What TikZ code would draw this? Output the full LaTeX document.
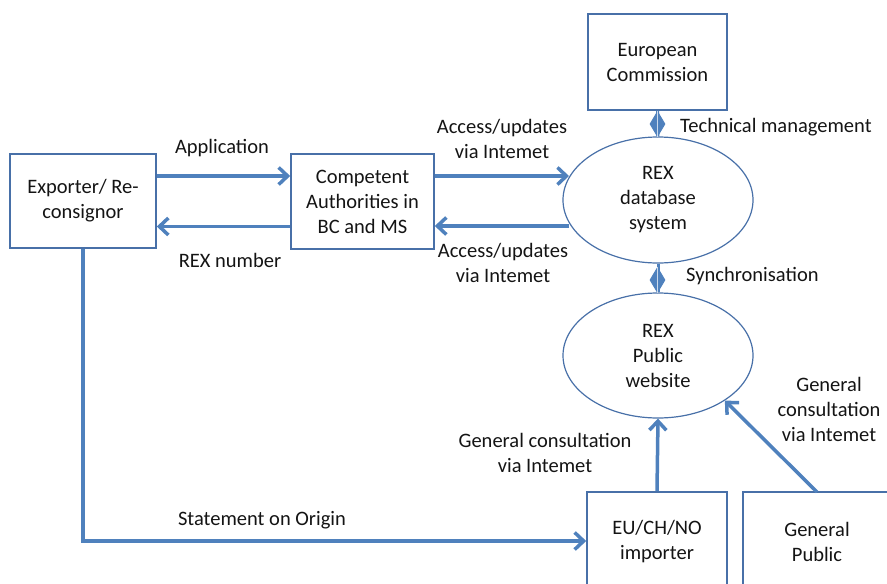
\documentclass[tikz,border=0pt]{standalone}
\usepackage{fontspec}
\setmainfont{Carlito}
\usetikzlibrary{arrows.meta,shapes.geometric}
\definecolor{arrblue}{RGB}{79,129,189}
\definecolor{boxblue}{RGB}{72,112,168}
\definecolor{txt}{RGB}{20,20,20}
\begin{document}
\begin{tikzpicture}[x=1pt,y=-1pt,
  every node/.style={font=\fontsize{20.5}{25}\selectfont,text=txt,align=center},
  box/.style={draw=boxblue,line width=1.6pt,rectangle,inner sep=0pt},
  oval/.style={draw=boxblue,line width=1.2pt,ellipse,inner sep=0pt},
  arr/.style={draw=arrblue,line width=3.5pt,-{Straight Barb[length=9pt,width=17pt,line width=3.5pt]}},
  link/.style={draw=arrblue,line width=3pt},
  dia/.style={diamond,fill=arrblue,draw=arrblue,line width=1pt,minimum width=15pt,minimum height=25pt,inner sep=0pt},
  lbl/.style={inner sep=0pt}]
\useasboundingbox (0,0) rectangle (887,584);
\clip (0,0) rectangle (887,584);

% boxes
\node[box,minimum width=146pt,minimum height=94pt] (exp) at (83,201) {Exporter/ Re-\\consignor};
\node[box,minimum width=143pt,minimum height=95pt] (ca) at (362.5,201.5) {Competent\\Authorities in\\BC and MS};
\node[box,minimum width=139pt,minimum height=96pt] (ec) at (657.5,62) {European\\Commission};
\node[oval,minimum width=190pt,minimum height=126pt] (db) at (658,200) {REX\\database\\system};
\node[oval,minimum width=190pt,minimum height=125pt] (web) at (658,355.5) {REX\\Public\\website};
\node[box,minimum width=140pt,minimum height=128pt] (imp) at (657,556) {};
\node[lbl] (imptxt) at (657,542) {EU/CH/NO\\importer};
\node[box,minimum width=160pt,minimum height=128pt] (gp) at (823,556) {};
\node[lbl] (gptxt) at (817,542) {General\\Public};

% connector ends on ellipses
\coordinate (dbin) at (569,176);
\coordinate (dbout) at (569,226);
\coordinate (gpstart) at (817,492);

% arrows
\draw[arr] ([yshift=25pt]exp.east) -- ([yshift=25pt]exp.east -| ca.west);
\draw[arr] ([yshift=-25pt]ca.west) -- ([yshift=-25pt]ca.west -| exp.east);
\draw[arr] ([yshift=25.5pt]ca.east) -- (dbin);
\draw[arr] (dbout) -- (dbout -| ca.east);
\draw[arr] (exp.south) |- (imp.west |- 0,541);
\draw[arr] (imp.north) -- (web.south);
\draw[arr] (gpstart) -- (web.-34);

% diamond links
\draw[link] (ec.south) -- (db.north);
\node[dia] (d1) at (657.5,124) {};
\draw[white!70!arrblue,line width=0.8pt] (d1.north) -- (d1.south);
\draw[link] (db.south) -- (web.north);
\node[dia] (d2) at (657.5,280) {};
\draw[white!70!arrblue,line width=0.8pt] (d2.north) -- (d2.south);

% labels
\node[lbl] (l1) at (222,148) {Application};
\node[lbl] (l2) at (230,260) {REX number};
\node[lbl] (l3) at (502,139) {Access/updates\\via Intemet};
\node[lbl] (l4) at (503,263) {Access/updates\\via Intemet};
\node[lbl,anchor=west] (l5) at (680,127) {Technical management};
\node[lbl,anchor=west] (l6) at (686,276) {Synchronisation};
\node[lbl] (l7) at (262,520) {Statement on Origin};
\node[lbl] (l8) at (545,453) {General consultation\\via Intemet};
\node[lbl] (l9) at (829,409) {General\\consultation\\via Intemet};
\end{tikzpicture}
\end{document}
